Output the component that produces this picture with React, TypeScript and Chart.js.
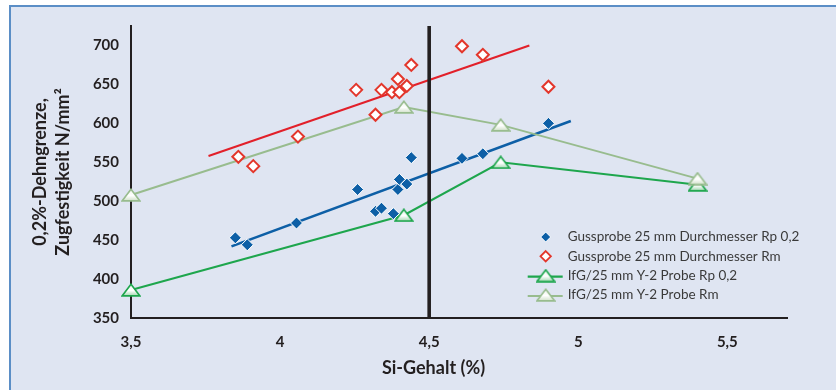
import React, { useEffect, useRef } from 'react';
import { Chart, registerables } from 'chart.js';

Chart.register(...registerables);

// ---- data ----
const gussRpX = [3.85, 3.89, 4.055, 4.26, 4.32, 4.34, 4.38, 4.395, 4.4, 4.425, 4.44, 4.61, 4.68, 4.9];
const gussRpY = [453, 444, 472, 515, 487, 491, 484, 515, 528, 522, 556, 555, 561, 600];
const gussRmX = [3.86, 3.91, 4.06, 4.255, 4.32, 4.34, 4.375, 4.395, 4.4, 4.425, 4.44, 4.61, 4.68, 4.9];
const gussRmY = [557, 545, 583, 643, 611, 643, 640, 657, 640, 648, 675, 699, 688, 647];
const ifgX = [3.5, 4.415, 4.74, 5.4];
const ifgRpY = [386, 482, 550, 521];
const ifgRmY = [508, 621, 598, 529];
const trendRpX = [3.837, 4.975];
const trendRpY = [442, 603];
const trendRmX = [3.76, 4.836];
const trendRmY = [558, 700];
const dividerX = 4.5;

const xTickValues = [3.5, 4, 4.5, 5, 5.5];
const xTickLabels = ['3,5', '4', '4,5', '5', '5,5'];
const yTickValues = [350, 400, 450, 500, 550, 600, 650, 700];
const yTickLabels = ['350', '400', '450', '500', '550', '600', '650', '700'];

const labelGussRp = 'Gussprobe 25 mm Durchmesser Rp 0,2';
const labelGussRm = 'Gussprobe 25 mm Durchmesser Rm';
const labelIfgRp = 'IfG/25 mm Y-2 Probe Rp 0,2';
const labelIfgRm = 'IfG/25 mm Y-2 Probe Rm';
const xTitle = 'Si-Gehalt (%)';
const yTitle = ['0,2%-Dehngrenze,', 'Zugfestigkeit N/mm²'];

const BLUE = '#0d5fa6';
const RED = '#e3362b';
const RED_LINE = '#e2202a';
const GREEN = '#1ea64d';
const LGREEN = '#98bc8e';
const INK = '#231f20';

function makeTriangle(stroke: string, top: string, bottom: string) {
  const c = document.createElement('canvas');
  c.width = 20;
  c.height = 14;
  const g = c.getContext('2d')!;
  const grad = g.createLinearGradient(0, 1, 0, 13);
  grad.addColorStop(0, top);
  grad.addColorStop(0.55, '#ffffff');
  grad.addColorStop(1, bottom);
  g.beginPath();
  g.moveTo(10, 1.2);
  g.lineTo(18.9, 12.9);
  g.lineTo(1.1, 12.9);
  g.closePath();
  g.fillStyle = grad;
  g.fill();
  g.lineWidth = 1.6;
  g.strokeStyle = stroke;
  g.lineJoin = 'miter';
  g.stroke();
  return c;
}

function pts(xs: number[], ys: number[]) {
  return xs.map((x, i) => ({ x, y: ys[i] }));
}

function drawDiamond(ctx: CanvasRenderingContext2D, x: number, y: number, r: number, fill: string, stroke: string, lw: number) {
  ctx.beginPath();
  ctx.moveTo(x, y - r);
  ctx.lineTo(x + r, y);
  ctx.lineTo(x, y + r);
  ctx.lineTo(x - r, y);
  ctx.closePath();
  ctx.fillStyle = fill;
  ctx.fill();
  ctx.lineWidth = lw;
  ctx.strokeStyle = stroke;
  ctx.stroke();
}

export default function App() {
  const ref = useRef<HTMLCanvasElement>(null);

  useEffect(() => {
    const canvas = ref.current!;
    const triRp = makeTriangle(GREEN, '#e9f6ec', '#9fd7ae');
    const triRm = makeTriangle(LGREEN, '#eef4ea', '#cfe0c7');

    Chart.defaults.font.family = 'Lato';

    const overlay = {
      id: 'overlay',
      afterDatasetsDraw(chart: any) {
        const { ctx, chartArea, scales } = chart;
        const xp = scales.x.getPixelForValue(dividerX);
        ctx.save();
        ctx.strokeStyle = INK;
        ctx.lineWidth = 3.6;
        ctx.beginPath();
        ctx.moveTo(xp, chartArea.top);
        ctx.lineTo(xp, chartArea.bottom);
        ctx.stroke();
        ctx.restore();
      },
      afterDraw(chart: any) {
        const { ctx } = chart;
        ctx.save();
        // x-axis title
        ctx.font = 'bold 18px Lato';
        ctx.fillStyle = INK;
        ctx.textAlign = 'center';
        ctx.textBaseline = 'middle';
        ctx.fillText(xTitle, 433.5, 368);

        // legend
        const symX = 545.7;
        const textX = 567.7;
        const rows = [237, 256.3, 275.6, 295];
        ctx.font = '13.5px Lato';
        ctx.textAlign = 'left';
        ctx.textBaseline = 'middle';
        // row 1
        drawDiamond(ctx, symX, rows[0], 5, BLUE, '#ffffff', 1);
        // row 2
        drawDiamond(ctx, symX, rows[1], 5.2, '#ffffff', RED, 1.8);
        // row 3
        ctx.strokeStyle = GREEN;
        ctx.lineWidth = 2.2;
        ctx.beginPath();
        ctx.moveTo(527.7, rows[2] + 1);
        ctx.lineTo(562.7, rows[2] + 1);
        ctx.stroke();
        ctx.drawImage(triRp, symX - 10, rows[2] - 7);
        // row 4
        ctx.strokeStyle = LGREEN;
        ctx.beginPath();
        ctx.moveTo(527.7, rows[3] + 1);
        ctx.lineTo(562.7, rows[3] + 1);
        ctx.stroke();
        ctx.drawImage(triRm, symX - 10, rows[3] - 7);

        ctx.fillStyle = '#3a3a3a';
        const labels = [labelGussRp, labelGussRm, labelIfgRp, labelIfgRm];
        labels.forEach((t, i) => ctx.fillText(t, textX, rows[i]));
        ctx.restore();
      },
    };

    const tickFont = { family: 'Lato', weight: 'bold' as const, size: 15 };

    const chart = new Chart(canvas, {
      type: 'scatter',
      data: {
        datasets: [
          {
            label: labelGussRp,
            data: pts(gussRpX, gussRpY),
            pointStyle: 'rectRot',
            pointRadius: 6,
            backgroundColor: BLUE,
            borderColor: '#ffffff',
            borderWidth: 1,
            clip: false,
          } as any,
          {
            label: labelGussRm,
            data: pts(gussRmX, gussRmY),
            pointStyle: 'rectRot',
            pointRadius: 6,
            backgroundColor: '#ffffff',
            borderColor: RED,
            borderWidth: 2,
            clip: false,
          },
          {
            label: labelIfgRm,
            data: pts(ifgX, ifgRmY),
            showLine: true,
            borderColor: LGREEN,
            backgroundColor: LGREEN,
            borderWidth: 2,
            pointStyle: triRm,
            pointRadius: 9,
            clip: false,
          },
          {
            label: labelIfgRp,
            data: pts(ifgX, ifgRpY),
            showLine: true,
            borderColor: GREEN,
            backgroundColor: GREEN,
            borderWidth: 2,
            pointStyle: triRp,
            pointRadius: 9,
            clip: false,
          },
          {
            label: 'Trend Rp 0,2',
            data: pts(trendRpX, trendRpY),
            showLine: true,
            borderColor: BLUE,
            borderWidth: 2.6,
            pointRadius: 0,
          },
          {
            label: 'Trend Rm',
            data: pts(trendRmX, trendRmY),
            showLine: true,
            borderColor: RED_LINE,
            borderWidth: 2,
            pointRadius: 0,
          },
        ],
      },
      options: {
        responsive: false,
        animation: false,
        events: [],
        layout: { padding: { top: 26, right: 49, left: 0, bottom: 0 } },
        plugins: {
          legend: { display: false },
          tooltip: { enabled: false },
        },
        scales: {
          x: {
            type: 'linear',
            min: 3.5,
            max: 5.7,
            afterBuildTicks: (s: any) => {
              s.ticks = xTickValues.map((v) => ({ value: v }));
            },
            afterFit: (s: any) => {
              s.height = 72;
            },
            grid: { display: false, drawTicks: false },
            border: { display: true, color: INK, width: 2 },
            ticks: {
              autoSkip: false,
              maxRotation: 0,
              padding: 15,
              color: INK,
              font: tickFont,
              callback: (v: any) => {
                const i = xTickValues.indexOf(Number(v));
                return i >= 0 ? xTickLabels[i] : '';
              },
            },
          },
          y: {
            type: 'linear',
            min: 350,
            max: 725,
            afterBuildTicks: (s: any) => {
              s.ticks = yTickValues.map((v) => ({ value: v }));
            },
            afterFit: (s: any) => {
              s.width = 131;
            },
            grid: { display: false, drawTicks: false },
            border: { display: true, color: INK, width: 2 },
            title: {
              display: true,
              text: yTitle,
              color: INK,
              font: { family: 'Lato', weight: 'bold', size: 18, lineHeight: 23 / 18 },
              padding: { top: 28.5, bottom: 0 },
            },
            ticks: {
              autoSkip: false,
              padding: 12,
              color: INK,
              font: tickFont,
              callback: (v: any) => {
                const i = yTickValues.indexOf(Number(v));
                return i >= 0 ? yTickLabels[i] : '';
              },
            },
          },
        },
      },
      plugins: [overlay],
    });

    return () => chart.destroy();
  }, []);

  return (
    <div style={{ position: 'fixed', left: 0, top: 0, width: 836, height: 390, background: '#ffffff', overflow: 'hidden' }}>
      <div
        style={{
          position: 'absolute',
          left: 9,
          top: 5,
          right: 0,
          bottom: 0,
          background: '#dfe5f2',
          borderTop: '2px solid #5b8ec6',
          borderLeft: '2px solid #5b8ec6',
        }}
      />
      <canvas ref={ref} width={836} height={390} style={{ position: 'absolute', left: 0, top: 0, width: 836, height: 390 }} />
    </div>
  );
}
